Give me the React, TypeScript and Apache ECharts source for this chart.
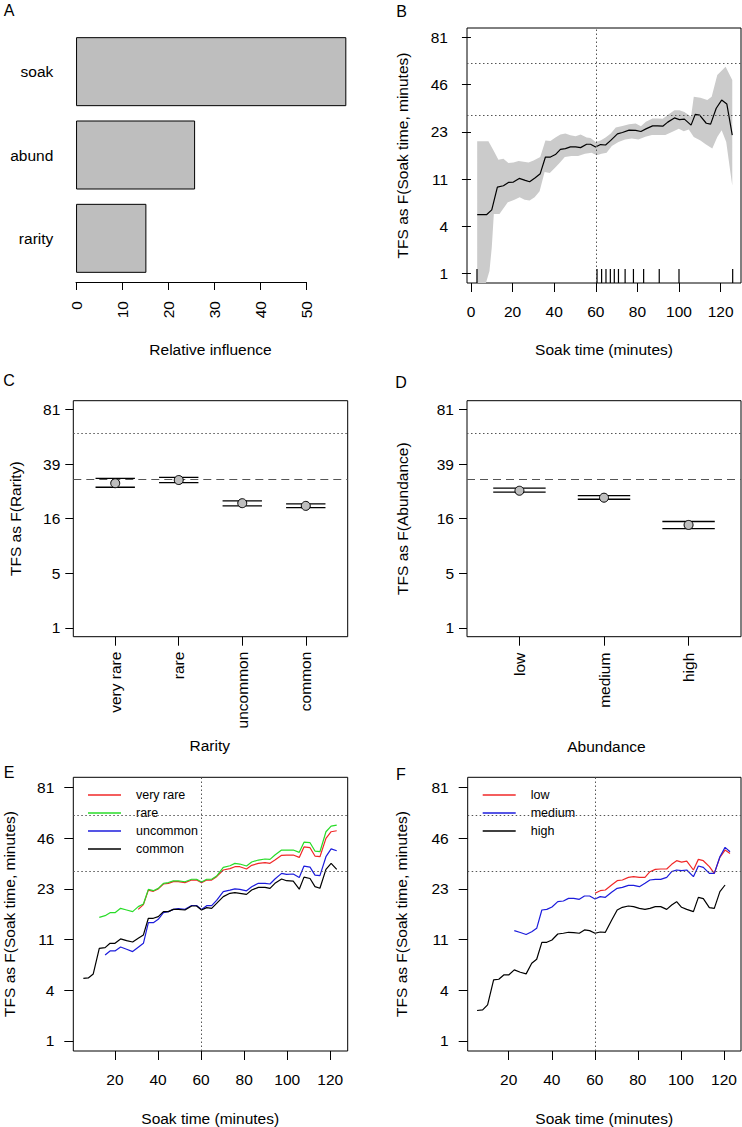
import React, { useEffect, useRef } from "react";
import * as echarts from "echarts";

const FONT = "'Liberation Sans', Arial, Helvetica, sans-serif";
const W = 742;
const H = 1127;

// ---------- Panel A: relative influence ----------
const influenceVars = ["rarity", "abund", "soak"];
const influenceValues = [15.3, 25.9, 58.8];

// ---------- y tick positions (fourth-root scale) and their labels ----------
const rootTicks = [1, 1.4, 1.8, 2.2, 2.6, 3];
const rootTickLabels = ["1", "4", "11", "23", "46", "81"];
const rootTicksCD = [1, 1.5, 2, 2.5, 3];
const rootTickLabelsCD = ["1", "5", "16", "39", "81"];

const soakTicksB = [0, 20, 40, 60, 80, 100, 120];
const soakTicksEF = [20, 40, 60, 80, 100, 120];

// reference lines (minutes)
const refTFS = [30, 60];
const refSoak = 60;
const meanTFS = 30.9;

// ---------- Panel B: partial dependence on soak time ----------
const soakB = [3.0, 7.6, 10.0, 12.7, 15.6, 18.0, 20.4, 23.2, 26.1, 28.2, 30.9, 33.3, 35.8, 38.2, 40.6, 43.0, 45.4, 47.8, 50.3, 52.7, 55.6, 57.5, 59.9, 62.3, 64.7, 67.2, 70.4, 72.8, 76.0, 79.2, 81.7, 84.1, 87.3, 89.7, 92.2, 94.6, 97.8, 100.2, 102.6, 105.8, 107.8, 109.9, 113.1, 115.2, 117.9, 120.5, 123.0, 125.6];
const tfsB = [5.06, 5.06, 5.62, 9.0, 9.25, 9.86, 9.92, 10.64, 10.24, 9.99, 10.78, 11.61, 15.59, 15.59, 16.25, 17.75, 17.95, 18.45, 18.45, 18.25, 19.27, 19.27, 18.45, 19.18, 19.05, 20.5, 22.7, 23.2, 24.05, 23.95, 23.56, 24.53, 25.67, 25.67, 25.56, 27.15, 28.9, 28.2, 28.4, 25.95, 30.4, 30.1, 26.7, 26.34, 33.2, 37.2, 35.2, 22.3];
const bandUpperSoak = [3.0, 8.4, 10.8, 13.2, 15.6, 18.0, 20.4, 22.9, 25.3, 27.7, 30.1, 33.3, 35.8, 38.2, 40.6, 43.0, 45.4, 47.8, 50.3, 52.7, 55.6, 57.5, 59.9, 62.3, 64.7, 67.2, 69.6, 72.8, 76.0, 79.2, 81.7, 84.1, 87.3, 89.7, 92.2, 94.6, 97.8, 100.2, 102.6, 105.8, 107.1, 110.3, 113.6, 115.7, 118.4, 122.4, 125.6];
const bandUpper = [20.2, 20.2, 17.5, 14.9, 15.15, 14.05, 14.2, 14.55, 14.4, 14.2, 14.7, 15.6, 20.5, 20.3, 21.45, 22.5, 22.85, 22.25, 21.9, 22.5, 21.45, 21.3, 20.0, 20.5, 21.45, 22.85, 25.06, 25.67, 26.34, 26.6, 25.56, 27.27, 28.67, 28.67, 28.5, 30.1, 32.3, 32.3, 31.5, 29.4, 38.9, 38.4, 37.2, 38.9, 51.7, 57.4, 48.6];
const bandLowerSoak = [3.0, 7.2, 8.9, 10.0, 11.0, 13.7, 17.7, 20.9, 23.4, 25.8, 28.2, 30.6, 33.0, 35.4, 37.9, 40.3, 42.7, 45.1, 48.3, 51.5, 54.8, 58.0, 60.4, 62.8, 65.2, 67.7, 70.9, 74.1, 77.3, 80.5, 83.8, 87.0, 90.2, 93.4, 96.6, 99.9, 102.3, 104.7, 107.1, 110.3, 112.8, 116.0, 118.4, 120.5, 122.7, 124.8, 125.6];
const bandLower = [0.5, 0.5, 1.09, 2.22, 5.13, 5.13, 6.62, 6.96, 7.35, 6.96, 6.86, 7.35, 8.31, 11.96, 11.74, 12.87, 14.14, 15.59, 15.86, 15.86, 16.5, 16.78, 16.05, 16.5, 16.78, 18.75, 20.0, 20.77, 21.1, 20.77, 21.7, 22.3, 22.3, 22.3, 23.4, 24.6, 23.7, 24.3, 21.67, 20.5, 19.27, 17.95, 21.67, 24.0, 20.0, 11.6, 9.3];
const rugSoak = [2.9, 60.6, 62.8, 64.9, 67.0, 68.9, 70.9, 74.1, 78.1, 83.0, 90.5, 100.0, 125.8];

// ---------- Panel C: rarity ----------
const rarityLevels = ["very rare", "rare", "uncommon", "common"];
const rarityFit = [29.2, 30.7, 21.05, 20.1];
const rarityUpper = [31.5, 32.0, 21.9, 20.8];
const rarityLower = [27.4, 29.5, 20.1, 19.5];

// ---------- Panel D: abundance ----------
const abundLevels = ["low", "medium", "high"];
const abundFit = [25.9, 23.1, 14.25];
const abundUpper = [27.0, 23.9, 15.2];
const abundLower = [25.3, 22.5, 13.3];

// ---------- Panel E: soak x rarity ----------
const soakE = [5.3, 7.6, 9.9, 12.7, 15.4, 17.7, 20.0, 22.6, 25.4, 28.2, 30.8, 33.2, 35.5, 37.8, 40.1, 42.5, 44.8, 47.1, 49.4, 52.5, 55.6, 57.9, 60.2, 62.6, 64.9, 67.2, 70.3, 73.4, 75.7, 78.0, 81.1, 83.5, 86.6, 89.7, 92.0, 94.3, 97.4, 99.7, 102.8, 105.6, 107.8, 110.6, 112.9, 115.2, 118.0, 120.4, 123.0];
const eVeryRare = [null, null, null, null, null, null, null, null, null, null, 17.25, 18.54, 23.0, 22.6, 23.4, 25.08, 25.32, 25.91, 25.91, 25.56, 26.52, 26.52, 25.56, 26.52, 26.52, 27.78, 30.41, 30.96, 31.79, 31.79, 30.82, 32.36, 33.22, 33.51, 33.22, 34.7, 36.86, 37.01, 37.01, 35.9, 41.0, 40.62, 36.54, 36.23, 45.55, 49.35, 49.94];
const eRare = [null, null, null, 15.21, 15.62, 16.38, 16.38, 17.52, 17.08, 16.64, 17.98, 18.72, 23.25, 22.8, 23.58, 25.3, 25.6, 26.2, 26.2, 25.9, 26.8, 26.8, 25.8, 26.8, 26.8, 28.0, 31.51, 32.2, 33.22, 32.93, 32.07, 33.8, 34.7, 35.16, 35.0, 37.01, 39.44, 39.44, 39.44, 38.3, 43.5, 43.2, 38.94, 38.61, 49.35, 52.76, 53.38];
const eUncommon = [null, null, null, null, 7.93, 8.54, 8.54, 9.19, 8.81, 8.44, 9.13, 9.81, 13.96, 13.96, 14.74, 16.38, 16.64, 17.25, 17.43, 17.25, 18.3, 18.3, 17.2, 18.25, 18.25, 19.8, 22.5, 23.0, 23.4, 23.25, 22.75, 24.15, 25.32, 25.32, 25.08, 26.9, 29.07, 28.68, 28.81, 27.5, 32.07, 31.6, 28.4, 28.2, 36.23, 40.0, 39.1];
const eCommon = [4.98, 5.02, 5.45, 8.97, 9.08, 9.81, 9.81, 10.6, 10.29, 10.05, 10.72, 11.36, 14.98, 14.98, 15.37, 16.64, 16.64, 17.25, 17.25, 17.08, 18.16, 18.16, 17.08, 17.7, 17.52, 18.92, 20.9, 21.94, 22.15, 21.94, 21.62, 23.03, 23.93, 23.93, 23.58, 25.32, 26.89, 26.27, 26.1, 23.3, 27.6, 27.1, 24.15, 23.6, 30.68, 33.22, 30.68];

// ---------- Panel F: soak x abundance ----------
const soakF = [5.3, 7.9, 10.2, 13.0, 15.4, 17.7, 20.0, 22.6, 25.4, 28.1, 30.7, 33.0, 35.4, 37.7, 40.1, 42.8, 45.4, 47.8, 50.2, 52.8, 55.2, 57.6, 60.1, 62.5, 64.9, 67.8, 70.4, 72.8, 75.6, 78.0, 80.7, 83.3, 85.6, 88.1, 90.6, 93.4, 95.7, 98.0, 100.3, 102.7, 105.8, 108.1, 110.4, 113.2, 115.5, 118.1, 120.5, 122.8];
const fLow = [null, null, null, null, null, null, null, null, null, null, null, null, null, null, null, null, null, null, null, null, null, null, 21.94, 22.8, 23.03, 24.73, 26.27, 26.52, 27.52, 27.78, 27.52, 27.52, 29.73, 30.68, 30.82, 30.82, 32.79, 34.4, 33.8, 34.25, 30.41, 35.0, 34.4, 31.79, 29.07, 35.92, 39.44, 37.8];
const fMedium = [null, null, null, null, null, null, null, 12.23, 11.85, 11.45, 12.0, 12.71, 17.08, 17.25, 17.9, 19.4, 19.59, 20.38, 20.38, 20.09, 21.1, 21.1, 20.18, 20.9, 20.7, 22.26, 23.58, 23.93, 24.6, 24.6, 24.15, 25.32, 26.52, 26.77, 26.77, 27.52, 29.73, 30.41, 30.14, 30.41, 27.78, 32.07, 31.51, 29.07, 29.07, 36.23, 40.79, 38.61];
const fHigh = [2.36, 2.4, 2.72, 4.81, 4.88, 5.34, 5.34, 5.92, 5.65, 5.46, 6.76, 7.3, 9.99, 9.99, 10.41, 11.55, 11.69, 11.89, 11.82, 11.69, 12.37, 12.23, 11.69, 11.95, 11.89, 14.5, 17.08, 17.8, 18.16, 17.98, 17.52, 17.25, 17.52, 17.98, 17.98, 17.25, 18.44, 19.4, 17.8, 17.25, 16.64, 20.69, 20.28, 17.7, 17.52, 22.48, 24.73, null];

const eNames = ["very rare", "rare", "uncommon", "common"];
const eColors = ["#f02828", "#28dc28", "#1c1cdc", "#000000"];
const fNames = ["low", "medium", "high"];
const fColors = ["#f02828", "#1c1cdc", "#000000"];

// ---------- helpers ----------
const root = (v: number) => Math.pow(v, 0.25);
const Y_MIN = 0.92;
const Y_MAX = 3.08;
const clampY = (t: number) => Math.min(Y_MAX, Math.max(Y_MIN, t));
const FS = 15.5;
const DOT = { type: [1.5, 2.5], color: "#555", width: 1 };
const DASH = { type: [8, 5], color: "#555", width: 1 };
const ERR_HALF = 0.31;

const labelFor = (ticks: number[], labels: string[]) => (v: number) => {
  const i = ticks.findIndex((t) => Math.abs(t - v) < 1e-6);
  return i >= 0 ? labels[i] : "";
};

const pairs = (xs: number[], ys: (number | null)[]) =>
  xs.map((x, i) => (ys[i] == null ? null : [x, root(ys[i] as number)])).filter((p) => p !== null);

function yRootAxis(gridIndex: number, ticks: number[], labels: string[], margin: number, tickLen: number) {
  return {
    type: "value",
    gridIndex,
    min: Y_MIN,
    max: Y_MAX,
    axisLine: { show: false },
    axisTick: { show: true, length: tickLen, customValues: ticks, lineStyle: { color: "#000", width: 1 } },
    axisLabel: { customValues: ticks, margin, fontSize: FS, color: "#000", fontFamily: FONT, formatter: labelFor(ticks, labels) },
    splitLine: { show: false },
  };
}

function xValueAxis(gridIndex: number, min: number, max: number, ticks: number[], margin: number, formatter?: any, rotate = 0) {
  return {
    type: "value",
    gridIndex,
    min,
    max,
    axisLine: { show: false },
    axisTick: { show: true, length: 9, customValues: ticks, lineStyle: { color: "#000", width: 1 } },
    axisLabel: { customValues: ticks, margin, rotate, fontSize: FS, color: "#000", fontFamily: FONT, formatter: formatter || ((v: number) => String(v)) },
    splitLine: { show: false },
  };
}

function text(str: string, x: number, y: number, rotate = false, size = FS) {
  return {
    type: "text",
    x,
    y,
    rotation: rotate ? Math.PI / 2 : 0,
    silent: true,
    style: {
      text: str,
      fontSize: size,
      fontFamily: FONT,
      fill: "#000",
      align: "center",
      verticalAlign: "middle",
      textAlign: "center",
      textVerticalAlign: "middle",
    },
  };
}

function errorBarSeries(axisIndex: number, lower: number[], upper: number[]) {
  return {
    type: "custom",
    xAxisIndex: axisIndex,
    yAxisIndex: axisIndex,
    silent: true,
    data: lower.map((lo, i) => [i + 1, root(lo), root(upper[i])]),
    encode: { x: 0, y: [1, 2] },
    renderItem: (params: any, api: any) => {
      const x = api.value(0);
      const lo = api.value(1);
      const hi = api.value(2);
      const a = api.coord([x - ERR_HALF, hi]);
      const b = api.coord([x + ERR_HALF, hi]);
      const c = api.coord([x - ERR_HALF, lo]);
      const d = api.coord([x + ERR_HALF, lo]);
      return {
        type: "group",
        children: [
          { type: "line", shape: { x1: a[0], y1: a[1], x2: b[0], y2: b[1] }, style: { stroke: "#000", lineWidth: 1.3 } },
          { type: "line", shape: { x1: c[0], y1: c[1], x2: d[0], y2: d[1] }, style: { stroke: "#000", lineWidth: 1.3 } },
        ],
      };
    },
    z: 3,
  };
}

function refMarkLine(withVertical: boolean, withMean: boolean) {
  const data: any[] = [
    { yAxis: root(refTFS[1]), lineStyle: DOT },
    withMean ? { yAxis: root(meanTFS), lineStyle: DASH } : { yAxis: root(refTFS[0]), lineStyle: DOT },
  ];
  if (withVertical) data.push({ xAxis: refSoak, lineStyle: DOT });
  return { silent: true, symbol: ["none", "none"], label: { show: false }, emphasis: { disabled: true }, animation: false, data };
}

function lineSeries(name: string, color: string, axisIndex: number, xs: number[], ys: (number | null)[], extra: any = {}) {
  return {
    type: "line",
    name,
    xAxisIndex: axisIndex,
    yAxisIndex: axisIndex,
    data: pairs(xs, ys),
    symbol: "none",
    showSymbol: false,
    color,
    itemStyle: { color },
    lineStyle: { color, width: 1.2 },
    emphasis: { disabled: true },
    z: 4,
    ...extra,
  };
}

function buildOption() {
  const gridBase = { containLabel: false, outerBoundsMode: "none" };
  const boxed = { show: true, borderColor: "#000", borderWidth: 1, backgroundColor: "transparent" };
  const grid = [
    { ...gridBase, left: 73.3, top: 30, width: 274.4, height: 250 }, // 0 A bars
    { ...gridBase, left: 76, top: 30, width: 230, height: 252 }, // 1 A axis
    { ...gridBase, ...boxed, left: 467, top: 28, width: 274, height: 255 }, // 2 B
    { ...gridBase, ...boxed, left: 73.3, top: 400.7, width: 274.4, height: 236 }, // 3 C
    { ...gridBase, ...boxed, left: 467, top: 400.7, width: 274, height: 236 }, // 4 D
    { ...gridBase, ...boxed, left: 73.3, top: 777.3, width: 274.4, height: 273.7 }, // 5 E
    { ...gridBase, ...boxed, left: 467.7, top: 777.3, width: 273.3, height: 273.7 }, // 6 F
  ];

  const xAxis: any[] = [
    { type: "value", gridIndex: 0, min: -0.6, max: 59.1, show: false },
    {
      type: "value",
      gridIndex: 1,
      min: 0,
      max: 50,
      interval: 10,
      axisLine: { show: true, lineStyle: { color: "#000", width: 1 } },
      axisTick: { show: true, length: 8, lineStyle: { color: "#000" } },
      axisLabel: { rotate: 90, margin: 19, fontSize: FS, color: "#000", fontFamily: FONT },
      splitLine: { show: false },
    },
    xValueAxis(2, -1.9, 129.8, soakTicksB, 20),
    xValueAxis(3, 0.34, 4.66, [1, 2, 3, 4], 15, (v: number) => rarityLevels[Math.round(v) - 1], 90),
    xValueAxis(4, 0.38, 3.62, [1, 2, 3], 16, (v: number) => abundLevels[Math.round(v) - 1], 90),
    xValueAxis(5, 0.63, 128.1, soakTicksEF, 20),
    xValueAxis(6, 0.96, 127.9, soakTicksEF, 20),
  ];

  const yAxis: any[] = [
    {
      type: "category",
      gridIndex: 0,
      data: influenceVars,
      axisLine: { show: false, onZero: false },
      axisTick: { show: false },
      axisLabel: { margin: 20, fontSize: FS, color: "#000", fontFamily: FONT },
    },
    { type: "value", gridIndex: 1, min: 0, max: 1, show: false },
    yRootAxis(2, rootTicks, rootTickLabels, 19, 9),
    yRootAxis(3, rootTicksCD, rootTickLabelsCD, 13, 8),
    yRootAxis(4, rootTicksCD, rootTickLabelsCD, 13, 8),
    yRootAxis(5, rootTicks, rootTickLabels, 19, 9),
    yRootAxis(6, rootTicks, rootTickLabels, 19, 9),
  ];

  const series: any[] = [
    {
      type: "bar",
      xAxisIndex: 0,
      yAxisIndex: 0,
      data: influenceValues,
      barWidth: 69,
      itemStyle: { color: "#bebebe", borderColor: "#000", borderWidth: 1 },
      emphasis: { disabled: true },
      silent: true,
    },
    // B band
    {
      type: "custom",
      xAxisIndex: 2,
      yAxisIndex: 2,
      silent: true,
      data: bandUpperSoak.map((s, i) => [s, root(bandUpper[i])]),
      renderItem: (params: any, api: any) => {
        if (params.dataIndex !== 0) return { type: "group", children: [] };
        const pts: number[][] = [];
        bandUpperSoak.forEach((s, i) => pts.push(api.coord([s, clampY(root(bandUpper[i]))])));
        for (let i = bandLowerSoak.length - 1; i >= 0; i--) pts.push(api.coord([bandLowerSoak[i], clampY(root(bandLower[i]))]));
        return { type: "polygon", shape: { points: pts }, style: { fill: "#cbcbcb", stroke: "none" } };
      },
      z: 1,
    },
    lineSeries("soakFit", "#000", 2, soakB, tfsB, { markLine: refMarkLine(true, false) }),
    // B rug
    {
      type: "custom",
      xAxisIndex: 2,
      yAxisIndex: 2,
      silent: true,
      data: rugSoak.map((s) => [s, Y_MIN]),
      renderItem: (params: any, api: any) => {
        const p = api.coord([api.value(0), Y_MIN]);
        return { type: "line", shape: { x1: p[0], y1: p[1], x2: p[0], y2: p[1] - 14 }, style: { stroke: "#000", lineWidth: 1.2 } };
      },
      z: 5,
    },
    // C
    errorBarSeries(3, rarityLower, rarityUpper),
    {
      type: "scatter",
      name: "rarityFit",
      xAxisIndex: 3,
      yAxisIndex: 3,
      data: rarityFit.map((v, i) => [i + 1, root(v)]),
      symbol: "circle",
      symbolSize: 9,
      itemStyle: { color: "#bebebe", borderColor: "#000", borderWidth: 1, opacity: 1 },
      emphasis: { disabled: true },
      silent: true,
      z: 5,
      markLine: refMarkLine(false, true),
    },
    // D
    errorBarSeries(4, abundLower, abundUpper),
    {
      type: "scatter",
      name: "abundFit",
      xAxisIndex: 4,
      yAxisIndex: 4,
      data: abundFit.map((v, i) => [i + 1, root(v)]),
      symbol: "circle",
      symbolSize: 9,
      itemStyle: { color: "#bebebe", borderColor: "#000", borderWidth: 1, opacity: 1 },
      emphasis: { disabled: true },
      silent: true,
      z: 5,
      markLine: refMarkLine(false, true),
    },
    // E
    lineSeries(eNames[0], eColors[0], 5, soakE, eVeryRare, { markLine: refMarkLine(true, false) }),
    lineSeries(eNames[1], eColors[1], 5, soakE, eRare),
    lineSeries(eNames[2], eColors[2], 5, soakE, eUncommon),
    lineSeries(eNames[3], eColors[3], 5, soakE, eCommon),
    // F
    lineSeries(fNames[0], fColors[0], 6, soakF, fLow, { markLine: refMarkLine(true, false) }),
    lineSeries(fNames[1], fColors[1], 6, soakF, fMedium),
    lineSeries(fNames[2], fColors[2], 6, soakF, fHigh),
  ];

  const legendBase = {
    orient: "vertical",
    top: 788,
    itemWidth: 33,
    itemHeight: 1.5,
    icon: "rect",
    itemGap: 4,
    padding: 0,
    selectedMode: false,
    textStyle: { fontSize: 12.5, lineHeight: 14, color: "#000", fontFamily: FONT, padding: [0, 0, 0, 10] },
  };

  const graphic = [
    text("A", 9, 10, false, 16),
    text("B", 401.5, 11, false, 16),
    text("C", 9, 380.5, false, 16),
    text("D", 401, 382.5, false, 16),
    text("E", 9, 772.5, false, 16),
    text("F", 401, 774, false, 16),
    text("Relative influence", 210.5, 349.3),
    text("Soak time (minutes)", 604, 349.3),
    text("TFS as F(Soak time, minutes)", 402.7, 155.5, true),
    text("TFS as F(Rarity)", 15.3, 518.7, true),
    text("TFS as F(Abundance)", 402.7, 518.7, true),
    text("Rarity", 209.7, 745),
    text("Abundance", 606.5, 746.7),
    text("TFS as F(Soak time, minutes)", 9.2, 914, true),
    text("TFS as F(Soak time, minutes)", 401.8, 914, true),
    text("Soak time (minutes)", 210.2, 1118.3),
    text("Soak time (minutes)", 604.2, 1118.3),
  ];

  return {
    animation: false,
    backgroundColor: "#ffffff",
    textStyle: { fontFamily: FONT },
    grid,
    xAxis,
    yAxis,
    series,
    legend: [
      { ...legendBase, data: eNames, left: 88 },
      { ...legendBase, data: fNames, left: 482.7 },
    ],
    graphic,
  };
}

export default function App() {
  const ref = useRef<HTMLDivElement>(null);
  useEffect(() => {
    document.body.style.margin = "0";
    const chart = echarts.init(ref.current as HTMLDivElement, null, { renderer: "svg", width: W, height: H });
    chart.setOption(buildOption() as any);
    return () => chart.dispose();
  }, []);
  return <div ref={ref} style={{ width: W, height: H }} />;
}
